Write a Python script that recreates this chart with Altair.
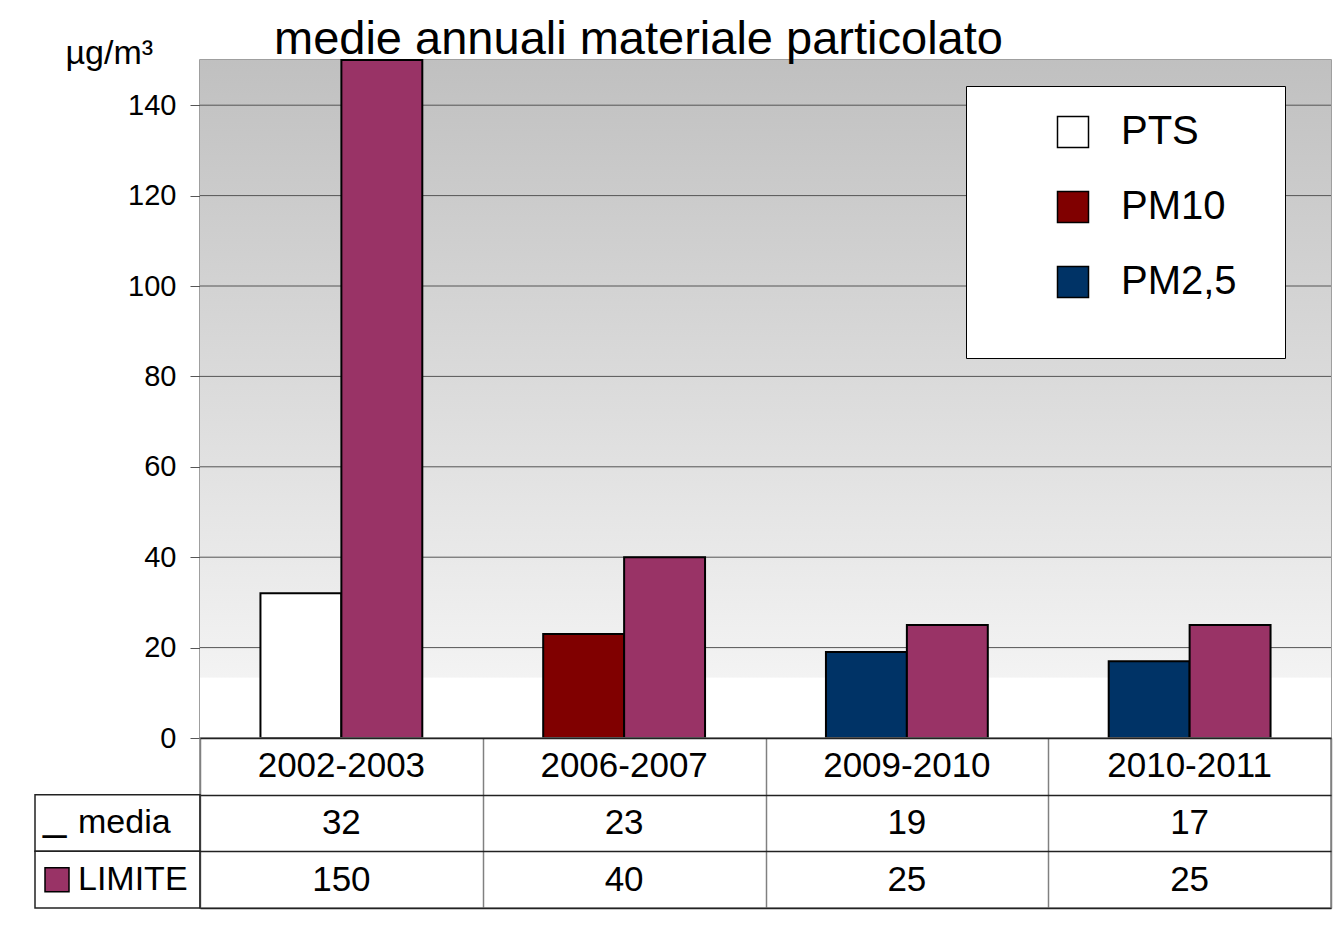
import altair as alt
import pandas as pd

# ---- data ----
categories = ["2002-2003", "2006-2007", "2009-2010", "2010-2011"]
media_values = [32, 23, 19, 17]
media_types = ["PTS", "PM10", "PM2,5", "PM2,5"]
limite_values = [150, 40, 25, 25]
legend_types = ["PTS", "PM10", "PM2,5"]
series_names = ["media", "LIMITE"]
row_keys = ["cat", "media", "LIMITE"]
row_labels = ["media", "LIMITE"]
grid_values = [20, 40, 60, 80, 100, 120, 140]
tick_values = [0, 20, 40, 60, 80, 100, 120, 140]
y_max = 150

FONT = "Liberation Sans"
color_domain = ["PTS", "PM10", "PM2,5", "LIMITE"]
color_range = ["#ffffff", "#800000", "#003366", "#993366"]

# ---- tables built from the arrays ----
bar_rows = []
for c, mv, mt, lv in zip(categories, media_values, media_types, limite_values):
    bar_rows.append({"cat": c, "series": "media", "kind": mt, "value": mv})
    bar_rows.append({"cat": c, "series": "LIMITE", "kind": "LIMITE", "value": lv})
bars_df = pd.DataFrame(bar_rows)

tbl_rows = []
for c, mv, lv in zip(categories, media_values, limite_values):
    tbl_rows.append({"cat": c, "row": "cat", "text": c})
    tbl_rows.append({"cat": c, "row": "media", "text": str(mv)})
    tbl_rows.append({"cat": c, "row": "LIMITE", "text": str(lv)})
tbl_df = pd.DataFrame(tbl_rows)
hdr_df = pd.DataFrame({"row": row_labels, "label": row_labels})

W, H = 1131, 678
TH = 170

x_scale = alt.Scale(domain=categories, paddingInner=0, paddingOuter=0)
y_scale = alt.Scale(domain=[0, y_max], nice=False, zero=True)

y_axis = alt.Axis(
    values=tick_values, grid=False, domainColor="#555555", tickColor="#555555",
    tickSize=10, labelFontSize=29, labelPadding=14, labelColor="black", labelFont=FONT,
    title="µg/m³", titleAngle=0, titleAlign="left", titleBaseline="alphabetic",
    titleX=-135, titleY=3, titleFontSize=34, titleFont=FONT, titleFontWeight="normal",
    titleColor="black",
)
Y = alt.Y("value:Q", scale=y_scale, axis=y_axis)

grad = alt.LinearGradient(
    gradient="linear",
    stops=[
        alt.GradientStop(color="#c0c0c0", offset=0),
        alt.GradientStop(color="#f3f3f3", offset=0.91),
        alt.GradientStop(color="#ffffff", offset=0.912),
        alt.GradientStop(color="#ffffff", offset=1),
    ],
    x1=0, x2=0, y1=0, y2=1,
)

bg = alt.Chart(pd.DataFrame({"value": [y_max], "value_end": [0]})).mark_rect(
    color=grad
).encode(y=Y, y2="value_end:Q")

grid = alt.Chart(pd.DataFrame({"value": grid_values})).mark_rule(
    color="#555555", strokeWidth=1
).encode(y=Y)

bars = alt.Chart(bars_df).mark_bar(stroke="black", strokeWidth=2, opacity=1).encode(
    x=alt.X("cat:N", scale=x_scale, sort=categories, axis=None),
    xOffset=alt.XOffset(
        "series:N", sort=series_names,
        scale=alt.Scale(domain=series_names, paddingInner=0, paddingOuter=0.747),
    ),
    y=Y,
    color=alt.Color(
        "kind:N",
        scale=alt.Scale(domain=color_domain, range=color_range),
        legend=alt.Legend(
            values=legend_types, orient="none", legendX=766, legendY=26,
            fillColor="white", strokeColor="black", padding=26,
            symbolType="square", symbolSize=961, symbolStrokeColor="black",
            symbolStrokeWidth=1.5, symbolOpacity=1, symbolOffset=61,
            labelOffset=28, labelFontSize=40, labelFont=FONT, labelColor="black",
            rowPadding=35,
            title="_" * 24, titleOrient="bottom", titleFontSize=20,
            titleColor="white", titlePadding=10, titleLimit=2000,
        ),
    ),
)

top = alt.layer(bg, grid, bars).properties(
    width=W, height=H,
    title=alt.TitleParams(
        "medie annuali materiale particolato", anchor="start", frame="group",
        dx=74, dy=32, fontSize=47, font=FONT, fontWeight="normal", color="black",
    ),
)

# ---- data table under the chart ----
row_scale = alt.Scale(domain=row_keys, paddingInner=0, paddingOuter=0)
tX = alt.X("cat:N", scale=x_scale, sort=categories, axis=alt.Axis(
    grid=True, tickBand="extent", labels=False, ticks=False, domain=False,
    title=None, gridColor="#808080", gridWidth=1.5))
tY = alt.Y("row:N", scale=row_scale, sort=row_keys, axis=alt.Axis(
    grid=True, tickBand="extent", labels=False, ticks=False, domain=False,
    title=None, gridColor="#222222", gridWidth=1.5))

cells = alt.Chart(tbl_df).mark_text(fontSize=35, font=FONT, color="black").encode(
    x=tX, y=tY, text="text:N")

hdr_box = alt.Chart(hdr_df).mark_rect(fillOpacity=0, stroke="#222222", strokeWidth=1.5).encode(
    x=alt.value(-165), x2=alt.value(0), y=tY)
hdr_text = alt.Chart(hdr_df).mark_text(align="left", fontSize=34, font=FONT, color="black").encode(
    x=alt.value(-122), y=tY, text="label:N")
hdr_under = alt.Chart(hdr_df).transform_filter(alt.datum.row == "media").mark_text(
    align="left", fontSize=42, font=FONT, color="black", dy=-6).encode(
    x=alt.value(-157), y=tY, text=alt.value("_"))
hdr_sq = alt.Chart(hdr_df).transform_filter(alt.datum.row == "LIMITE").mark_point(
    shape="square", size=576, filled=True, fill="#993366", stroke="black",
    strokeWidth=1.5, opacity=1).encode(x=alt.value(-143), y=tY)

table = alt.layer(cells, hdr_box, hdr_text, hdr_under, hdr_sq).properties(width=W, height=TH)

chart = alt.vconcat(top, table, spacing=0, bounds="flush").properties(
    padding={"left": 25, "top": 7, "right": 0, "bottom": 2}
).configure_view(stroke="#808080", strokeWidth=1.5)

chart.save("out.html", embed_options={"renderer": "svg", "actions": False})
